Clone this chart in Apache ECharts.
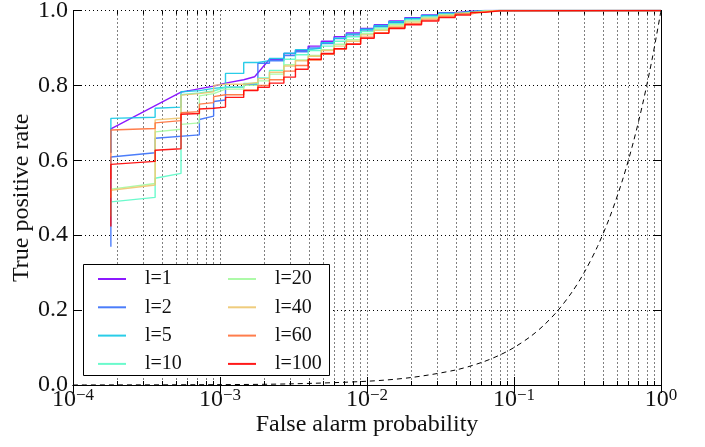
<!DOCTYPE html>
<html>
<head>
<meta charset="utf-8">
<script src="https://cdn.jsdelivr.net/npm/echarts@6/dist/echarts.min.js"></script>
<style>
  html, body { margin: 0; padding: 0; background: #fff; }
  #chart { width: 705px; height: 447px; }
</style>
</head>
<body>
<div id="chart"></div>
<script>
// ROC curves for several window lengths l (log-scaled false alarm axis)
const CATEGORIES = ['l=1', 'l=2', 'l=5', 'l=10', 'l=20', 'l=40', 'l=60', 'l=100'];
const COLORS = ['#8000ff', '#376ff9', '#12c8e6', '#5bf9c7', '#a4f99f', '#edc76f', '#ff6f39', '#ff0000'];

// Low false-alarm section: explicit ROC vertices (repeated x = vertical jump)
const L1_HEAD_FPR = [1.81e-4, 1.81e-4, 5.43e-4, 9.05e-4, 1.09e-3, 1.45e-3, 1.72e-3, 2.17e-3];
const L1_HEAD_TPR = [0.620, 0.684, 0.782, 0.798, 0.806, 0.815, 0.823, 0.870];
const L2_HEAD_FPR = [1.81e-4, 1.81e-4, 3.62e-4, 3.62e-4, 7.24e-4, 7.24e-4, 9.05e-4, 9.05e-4, 1.09e-3, 1.09e-3];
const L2_HEAD_TPR = [0.369, 0.609, 0.620, 0.659, 0.668, 0.709, 0.718, 0.757, 0.761, 0.795];
const L5_HEAD_FPR = [1.81e-4, 1.81e-4, 3.62e-4, 3.62e-4, 5.43e-4, 5.43e-4, 7.24e-4, 7.24e-4, 9.05e-4, 1.09e-3, 1.09e-3];
const L5_HEAD_TPR = [0.620, 0.712, 0.715, 0.739, 0.742, 0.783, 0.786, 0.790, 0.792, 0.795, 0.832];
const L10_HEAD_FPR = [1.81e-4, 1.81e-4, 3.62e-4, 3.62e-4, 5.43e-4, 5.43e-4, 7.24e-4, 9.05e-4, 1.09e-3];
const L10_HEAD_TPR = [0.450, 0.489, 0.501, 0.552, 0.565, 0.775, 0.780, 0.785, 0.795];
const L20_HEAD_FPR = [1.81e-4, 1.81e-4, 3.62e-4, 3.62e-4, 5.43e-4, 5.43e-4, 7.24e-4, 7.24e-4, 9.05e-4, 1.09e-3];
const L20_HEAD_TPR = [0.500, 0.523, 0.538, 0.676, 0.683, 0.696, 0.700, 0.772, 0.778, 0.790];
const L40_HEAD_FPR = [1.81e-4, 1.81e-4, 3.62e-4, 3.62e-4, 5.43e-4, 5.43e-4, 7.24e-4, 9.05e-4, 9.05e-4, 1.09e-3];
const L40_HEAD_TPR = [0.500, 0.520, 0.534, 0.708, 0.713, 0.774, 0.778, 0.783, 0.800, 0.803];
const L60_HEAD_FPR = [1.81e-4, 1.81e-4, 3.62e-4, 3.62e-4, 5.43e-4, 5.43e-4, 7.24e-4, 7.24e-4, 9.05e-4, 9.05e-4, 1.09e-3];
const L60_HEAD_TPR = [0.550, 0.681, 0.685, 0.700, 0.706, 0.727, 0.730, 0.750, 0.754, 0.770, 0.775];
const L100_HEAD_FPR = [1.81e-4, 1.81e-4, 3.62e-4, 3.62e-4, 5.43e-4, 5.43e-4, 7.24e-4, 7.24e-4, 9.05e-4, 1.09e-3, 1.09e-3];
const L100_HEAD_TPR = [0.423, 0.589, 0.597, 0.627, 0.631, 0.723, 0.725, 0.737, 0.739, 0.742, 0.768];

// Higher false-alarm section: TPR reached at each shared FPR step (null = not used)
const FPR_GRID = [1.45e-3, 1.81e-3, 2.17e-3, 2.72e-3, 3.26e-3, 3.98e-3, 4.89e-3, 5.97e-3, 7.24e-3, 9.05e-3,
                  1.12e-2, 1.41e-2, 1.81e-2, 2.35e-2, 3.08e-2, 3.98e-2, 5.07e-2, 6.34e-2, 8.0e-2];
const L1_TAIL   = [null, null, null, 0.885, 0.893, 0.905, 0.918, 0.930, 0.940, 0.952, 0.962, 0.972, 0.981, 0.988, 0.994, 0.998, 1.0, 1.0, 1.0];
const L2_TAIL   = [0.803, 0.859, 0.866, 0.880, 0.890, 0.900, 0.912, 0.925, 0.935, 0.948, 0.958, 0.968, 0.978, 0.986, 0.992, 0.996, 0.999, 1.0, 1.0];
const L5_TAIL   = [0.861, 0.866, 0.872, 0.886, 0.895, 0.900, 0.914, 0.926, 0.937, 0.950, 0.960, 0.970, 0.979, 0.987, 0.993, 0.997, 1.0, 1.0, 1.0];
const L10_TAIL  = [0.805, 0.820, 0.840, 0.870, 0.882, 0.893, 0.905, 0.918, 0.930, 0.944, 0.954, 0.965, 0.975, 0.983, 0.990, 0.995, 0.999, 1.0, 1.0];
const L20_TAIL  = [0.800, 0.812, 0.830, 0.855, 0.868, 0.880, 0.895, 0.910, 0.922, 0.938, 0.950, 0.962, 0.972, 0.981, 0.989, 0.994, 0.998, 1.0, 1.0];
const L40_TAIL  = [0.808, 0.818, 0.835, 0.852, 0.866, 0.878, 0.893, 0.905, 0.918, 0.935, 0.947, 0.958, 0.969, 0.979, 0.987, 0.993, 0.998, 1.0, 1.0];
const L60_TAIL  = [0.788, 0.800, 0.815, 0.838, 0.853, 0.868, 0.883, 0.897, 0.911, 0.929, 0.941, 0.954, 0.965, 0.975, 0.984, 0.991, 0.996, 1.0, 1.0];
const L100_TAIL = [0.786, 0.795, 0.806, 0.822, 0.843, 0.870, 0.885, 0.898, 0.910, 0.926, 0.939, 0.952, 0.962, 0.972, 0.981, 0.988, 0.995, 0.999, 1.0];
const FPR_END = 1.0;
const TPR_END = 1.0;

// Chance diagonal (TPR = FPR)
const CHANCE_FPR = [1e-4, 1e-3, 3e-3, 1e-2, 2e-2, 4e-2, 6e-2, 0.08, 0.1, 0.13, 0.16, 0.2, 0.25, 0.3, 0.37, 0.45, 0.55, 0.65, 0.75, 0.87, 1.0];
const CHANCE_TPR = [1e-4, 1e-3, 3e-3, 1e-2, 2e-2, 4e-2, 6e-2, 0.08, 0.1, 0.13, 0.16, 0.2, 0.25, 0.3, 0.37, 0.45, 0.55, 0.65, 0.75, 0.87, 1.0];

// Axis ticks
const X_MINOR = [2e-4, 3e-4, 4e-4, 5e-4, 6e-4, 7e-4, 8e-4, 9e-4,
                 2e-3, 3e-3, 4e-3, 5e-3, 6e-3, 7e-3, 8e-3, 9e-3,
                 2e-2, 3e-2, 4e-2, 5e-2, 6e-2, 7e-2, 8e-2, 9e-2,
                 0.2, 0.3, 0.4, 0.5, 0.6, 0.7, 0.8, 0.9];

const HEADS = [
  [L1_HEAD_FPR, L1_HEAD_TPR], [L2_HEAD_FPR, L2_HEAD_TPR], [L5_HEAD_FPR, L5_HEAD_TPR], [L10_HEAD_FPR, L10_HEAD_TPR],
  [L20_HEAD_FPR, L20_HEAD_TPR], [L40_HEAD_FPR, L40_HEAD_TPR], [L60_HEAD_FPR, L60_HEAD_TPR], [L100_HEAD_FPR, L100_HEAD_TPR]
];
const TAILS = [L1_TAIL, L2_TAIL, L5_TAIL, L10_TAIL, L20_TAIL, L40_TAIL, L60_TAIL, L100_TAIL];

// Join explicit vertices with the stepped tail (horizontal run, then vertical jump)
function buildCurve(headFpr, headTpr, tail) {
  const pts = headFpr.map((x, i) => [x, headTpr[i]]);
  let prev = headTpr[headTpr.length - 1];
  FPR_GRID.forEach((x, i) => {
    const v = tail[i];
    if (v === null) return;
    pts.push([x, prev]);
    pts.push([x, v]);
    prev = v;
  });
  pts.push([FPR_END, prev]);
  pts.push([FPR_END, TPR_END]);
  return pts;
}

const FONT = 'Liberation Serif';
const INK = '#111';

const chart = echarts.init(document.getElementById('chart'), null, { renderer: 'canvas' });

const rocSeries = CATEGORIES.map((name, i) => ({
  name: name,
  type: 'line',
  xAxisIndex: 0, yAxisIndex: 0,
  data: buildCurve(HEADS[i][0], HEADS[i][1], TAILS[i]),
  showSymbol: false,
  symbol: 'none',
  color: COLORS[i],
  lineStyle: { width: 1.4, color: COLORS[i], opacity: 0.9 },
  z: 3 + i * 0.01,
  animation: false
}));

const chanceSeries = {
  type: 'line',
  data: CHANCE_FPR.map((x, i) => [x, CHANCE_TPR[i]]),
  symbol: 'none',
  smooth: 0.3,
  lineStyle: { color: '#000', width: 1, type: [5, 4] },
  z: 4,
  animation: false
};

// Minor log ticks and their dotted grid lines, placed through the axis scale
const minorSeries = {
  type: 'custom',
  data: X_MINOR.map(v => [v, 0]),
  encode: { x: 0, y: 1 },
  silent: true,
  z: 1,
  animation: false,
  renderItem: function (params, api) {
    const v = api.value(0);
    const b = api.coord([v, 0]);
    const t = api.coord([v, 1]);
    const x = Math.round(b[0]) + 0.5;
    return {
      type: 'group',
      children: [
        { type: 'line', shape: { x1: x, y1: t[1], x2: x, y2: b[1] }, style: { stroke: '#000', lineWidth: 1, lineDash: [1, 3] } },
        { type: 'line', shape: { x1: x, y1: b[1], x2: x, y2: b[1] - 4 }, style: { stroke: '#000', lineWidth: 1 } },
        { type: 'line', shape: { x1: x, y1: t[1], x2: x, y2: t[1] + 4 }, style: { stroke: '#000', lineWidth: 1 } }
      ]
    };
  }
};

const legendBase = {
  orient: 'vertical',
  padding: 0,
  itemWidth: 28,
  itemHeight: 14,
  itemGap: 8.3,
  selectedMode: false,
  z: 60,
  itemStyle: { color: 'rgba(0,0,0,0)', borderWidth: 0 },
  textStyle: { fontFamily: FONT, fontSize: 20, color: INK, padding: [0, 0, 0, 14] }
};

const option = {
  backgroundColor: '#fff',
  animation: false,
  grid: { left: 73, right: 44, top: 10.5, bottom: 62, containLabel: false, outerBoundsMode: 'none' },
  xAxis: [{
    type: 'log',
    logBase: 10,
    min: 1e-4,
    max: 1,
    name: 'False alarm probability',
    nameLocation: 'middle',
    nameMoveOverlap: false,
    nameGap: 28,
    nameTextStyle: { fontFamily: FONT, fontSize: 24, color: INK },
    axisLine: { show: true, lineStyle: { color: '#000', width: 1 } },
    axisTick: { show: true, inside: true, length: 8, lineStyle: { color: '#000' } },
    splitLine: { show: true, lineStyle: { color: '#000', width: 1, type: [1, 3] } },
    axisLabel: {
      margin: 2,
      formatter: function (v) {
        const e = Math.round(Math.log10(v));
        return '{b|10}{s|' + (e < 0 ? '\u2212' + (-e) : e) + '}';
      },
      rich: {
        b: { fontFamily: FONT, fontSize: 24, color: INK, lineHeight: 26 },
        s: { fontFamily: FONT, fontSize: 17, color: INK, verticalAlign: 'top', lineHeight: 17 }
      }
    }
  }, {
    type: 'log',
    logBase: 10,
    min: 1e-4,
    max: 1,
    position: 'top',
    axisLine: { show: true, lineStyle: { color: '#000', width: 1 } },
    axisTick: { show: true, inside: true, length: 8, lineStyle: { color: '#000' } },
    axisLabel: { show: false },
    splitLine: { show: false }
  }],
  yAxis: [{
    type: 'value',
    min: 0,
    max: 1,
    interval: 0.2,
    name: 'True positive rate',
    nameLocation: 'middle',
    nameMoveOverlap: false,
    nameRotate: 90,
    nameGap: 39,
    nameTextStyle: { fontFamily: FONT, fontSize: 24, color: INK },
    axisLine: { show: true, lineStyle: { color: '#000', width: 1 } },
    axisTick: { show: true, inside: true, length: 8, lineStyle: { color: '#000' } },
    splitLine: { show: true, lineStyle: { color: '#000', width: 1, type: [1, 3] } },
    axisLabel: {
      margin: 5,
      fontFamily: FONT, fontSize: 24, color: INK,
      formatter: v => v.toFixed(1)
    }
  }, {
    type: 'value',
    min: 0,
    max: 1,
    interval: 0.2,
    position: 'right',
    axisLine: { show: true, lineStyle: { color: '#000', width: 1 } },
    axisTick: { show: true, inside: true, length: 8, lineStyle: { color: '#000' } },
    axisLabel: { show: false },
    splitLine: { show: false }
  }],
  legend: [
    Object.assign({}, legendBase, { left: 97, top: 269, data: CATEGORIES.slice(0, 4) }),
    Object.assign({}, legendBase, { left: 227, top: 269, data: CATEGORIES.slice(4) })
  ],
  graphic: [{
    type: 'rect',
    shape: { x: 83.5, y: 264.5, width: 246, height: 111 },
    style: { fill: '#fff', stroke: '#000', lineWidth: 1 },
    z: 50
  }],
  series: [minorSeries].concat(rocSeries, [chanceSeries])
};

chart.setOption(option);
</script>
</body>
</html>
